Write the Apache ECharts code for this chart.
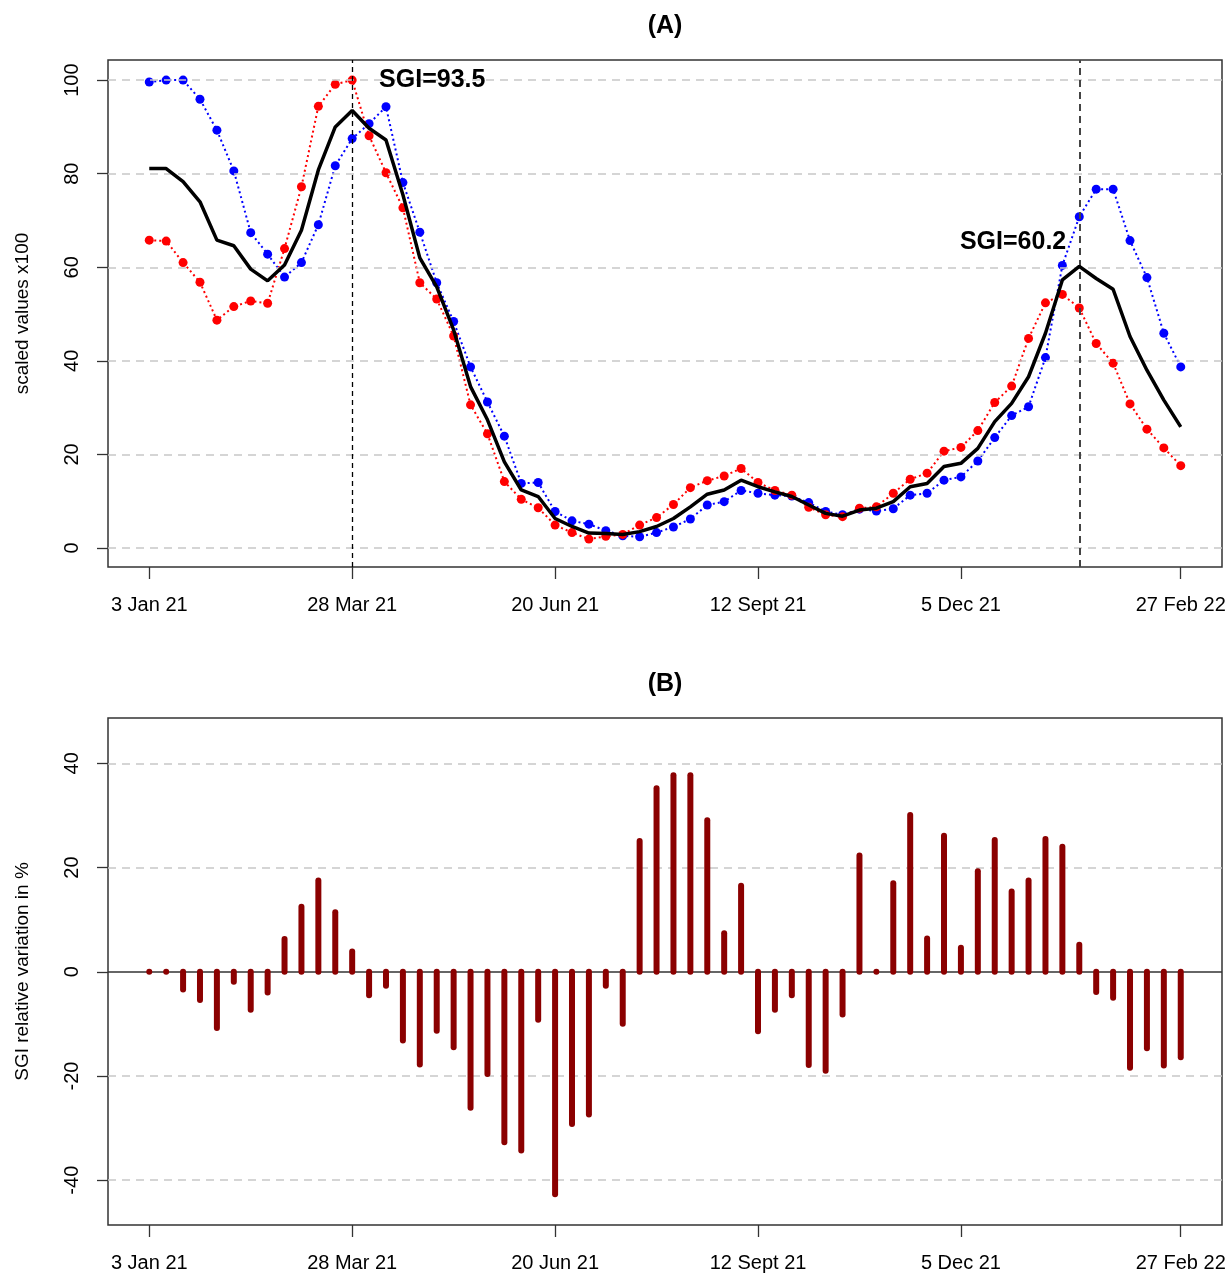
<!DOCTYPE html>
<html><head><meta charset="utf-8">
<script src="https://cdn.jsdelivr.net/npm/echarts@6/dist/echarts.min.js"></script>
<style>html,body{margin:0;padding:0;background:#fff}#c{width:1229px;height:1274px}</style>
</head><body><div id="c"></div>
<script>
// ---- data (weekly, index 0 = 3 Jan 21) ----
const weekIndex = Array.from({length: 62}, (_, i) => i);
const tickIdx = [0, 12, 24, 36, 48, 61];
const tickLabels = ['3 Jan 21', '28 Mar 21', '20 Jun 21', '12 Sept 21', '5 Dec 21', '27 Feb 22'];
const blueVals = [99.6,100,100,95.9,89.3,80.6,67.4,62.8,57.9,61.0,69.1,81.7,87.5,90.7,94.3,78.1,67.5,56.7,48.4,38.7,31.2,23.9,13.8,14.0,7.8,5.8,5.1,3.7,2.6,2.4,3.3,4.5,6.2,9.2,9.9,12.3,11.7,11.3,11.1,9.7,7.8,7.1,8.3,7.9,8.4,11.3,11.7,14.5,15.2,18.6,23.6,28.3,30.2,40.7,60.4,70.8,76.7,76.7,65.7,57.8,45.9,38.7];
const redVals = [65.8,65.6,61.0,56.8,48.7,51.6,52.8,52.3,64.0,77.2,94.4,99.1,100,88.1,80.2,72.7,56.7,53.2,45.3,30.6,24.4,14.2,10.4,8.6,4.9,3.3,1.9,2.5,2.9,4.9,6.5,9.3,12.9,14.4,15.4,17.0,14.0,12.3,11.3,8.7,7.1,6.7,8.5,8.8,11.7,14.7,16.0,20.7,21.5,25.1,31.1,34.6,44.8,52.4,54.2,51.3,43.7,39.5,30.8,25.4,21.4,17.6];
const sgiVals = [81.1,81.1,78.3,74.0,65.8,64.6,59.6,57.1,60.5,67.9,80.8,90.0,93.5,89.7,87.2,75.5,62.0,55.8,46.6,34.5,27.4,18.4,12.4,11.0,6.3,4.6,3.2,3.1,2.9,3.5,4.6,6.3,8.8,11.5,12.4,14.5,13.1,12.0,11.0,9.2,7.4,6.8,8.1,8.5,9.9,13.1,13.8,17.4,18.1,21.3,27.0,30.9,36.6,45.9,57.3,60.2,57.6,55.3,45.2,38.0,31.6,25.9];
const sgiVar = [0,0,-3.4,-5.4,-10.8,-1.9,-7.3,-4.0,6.3,12.5,17.5,11.4,3.9,-4.5,-2.7,-13.2,-17.8,-11.3,-14.5,-26.1,-19.6,-32.7,-34.3,-9.2,-42.7,-29.2,-27.4,-2.7,-10.0,25.1,35.2,37.7,37.7,29.1,7.4,16.5,-11.4,-7.3,-4.5,-17.9,-19.0,-8.2,22.3,0.1,17.0,30.1,6.4,26.1,4.6,19.3,25.3,15.4,17.5,25.5,24.0,5.2,-3.9,-5.0,-18.4,-14.7,-18.0,-16.4];
const peakIdx = [12, 55];
const peakLabels = ['SGI=93.5', 'SGI=60.2'];
const yTicksA = [0, 20, 40, 60, 80, 100];
const yTicksB = [-40, -20, 0, 20, 40];

const FONT = 'Liberation Sans, Arial, sans-serif';
const pair = arr => weekIndex.map((w, i) => [w, arr[i]]);

function xAxisCfg(gi) {
  return {
    type: 'value', gridIndex: gi, min: -2.44, max: 63.44, position: 'bottom',
    axisLine: {show: false, onZero: false}, splitLine: {show: false},
    axisTick: {show: true, customValues: tickIdx, length: 12, lineStyle: {color: '#333', width: 1.3}},
    axisLabel: {customValues: tickIdx, formatter: v => tickLabels[tickIdx.indexOf(Math.round(v))] || '',
      fontSize: 20, color: '#000', margin: 28, fontFamily: FONT}
  };
}
function yAxisCfg(gi, min, max, ticks, name) {
  return {
    type: 'value', gridIndex: gi, min: min, max: max, position: 'left',
    axisLine: {show: false, onZero: false}, splitLine: {show: false},
    axisTick: {show: true, customValues: ticks, length: 11, lineStyle: {color: '#333', width: 1.3}},
    axisLabel: {customValues: ticks, rotate: 90, fontSize: 20, color: '#000', margin: 26, fontFamily: FONT},
    name: name, nameLocation: 'middle', nameRotate: 90, nameGap: 76,
    nameTextStyle: {fontSize: 19, color: '#000', fontFamily: FONT}
  };
}
const gridLine = {type: [8, 6], color: '#c8c8c8', width: 1.5};

const option = {
  animation: false,
  backgroundColor: '#fff',
  textStyle: {fontFamily: FONT},
  grid: [
    {left: 108, width: 1114, top: 60, height: 507, show: true, borderColor: '#333', borderWidth: 1.5, backgroundColor: 'transparent'},
    {left: 108, width: 1114, top: 718, height: 507, show: true, borderColor: '#333', borderWidth: 1.5, backgroundColor: 'transparent'}
  ],
  xAxis: [xAxisCfg(0), xAxisCfg(1)],
  yAxis: [yAxisCfg(0, -4.06, 104.3, yTicksA, 'scaled values x100'),
          yAxisCfg(1, -48.6, 48.7, yTicksB, 'SGI relative variation in %')],
  graphic: [
    {type: 'text', x: 665, y: 26, style: {text: '(A)', font: 'bold 25px ' + FONT, fill: '#000', textAlign: 'center', textVerticalAlign: 'middle'}},
    {type: 'text', x: 665, y: 684, style: {text: '(B)', font: 'bold 25px ' + FONT, fill: '#000', textAlign: 'center', textVerticalAlign: 'middle'}}
  ],
  series: [
    { // grid lines A + vertical peak lines
      type: 'line', xAxisIndex: 0, yAxisIndex: 0, data: [], z: 1, silent: true,
      markLine: {
        silent: true, symbol: ['none', 'none'], label: {show: false}, animation: false,
        data: yTicksA.map(v => ({yAxis: v, lineStyle: gridLine})).concat([
          {xAxis: peakIdx[0], lineStyle: {type: [5, 4], color: '#000', width: 1.3}},
          {xAxis: peakIdx[1], lineStyle: {type: [7, 5], color: '#444', width: 2}}
        ])
      }
    },
    {
      name: 'blue', type: 'line', xAxisIndex: 0, yAxisIndex: 0, data: pair(blueVals), z: 3,
      symbol: 'circle', symbolSize: 9, itemStyle: {color: '#0000ff'},
      lineStyle: {color: '#0000ff', width: 2, type: [2, 3]}
    },
    {
      name: 'red', type: 'line', xAxisIndex: 0, yAxisIndex: 0, data: pair(redVals), z: 4,
      symbol: 'circle', symbolSize: 9, itemStyle: {color: '#ff0000'},
      lineStyle: {color: '#ff0000', width: 2, type: [2, 3]}
    },
    {
      name: 'SGI', type: 'line', xAxisIndex: 0, yAxisIndex: 0, data: pair(sgiVals), z: 5,
      showSymbol: false, lineStyle: {color: '#000', width: 3.5}, itemStyle: {color: '#000'},
      markPoint: {
        symbol: 'circle', symbolSize: 0.1, itemStyle: {color: 'rgba(0,0,0,0)'}, silent: true, animation: false,
        data: [
          {coord: [peakIdx[0], 100], value: peakLabels[0],
           label: {show: true, formatter: peakLabels[0], position: [27, 0], align: 'left', verticalAlign: 'middle', fontSize: 25, fontWeight: 'bold', color: '#000'}},
          {coord: [peakIdx[1], 65.4], value: peakLabels[1],
           label: {show: true, formatter: peakLabels[1], position: [-13, 0], align: 'right', verticalAlign: 'middle', fontSize: 25, fontWeight: 'bold', color: '#000'}}
        ]
      }
    },
    { // grid lines B
      type: 'line', xAxisIndex: 1, yAxisIndex: 1, data: [], z: 1, silent: true,
      markLine: {
        silent: true, symbol: ['none', 'none'], label: {show: false}, animation: false,
        data: yTicksB.filter(v => v !== 0).map(v => ({yAxis: v, lineStyle: gridLine}))
      }
    },
    {
      name: 'variation', type: 'custom', xAxisIndex: 1, yAxisIndex: 1, data: pair(sgiVar), z: 5,
      renderItem: function (params, api) {
        const x = api.value(0), v = api.value(1);
        const p0 = api.coord([x, 0]), p1 = api.coord([x, v]);
        if (Math.abs(p1[1] - p0[1]) < 1) {
          return {type: 'circle', shape: {cx: p0[0], cy: p0[1], r: 3}, style: {fill: '#8b0000'}};
        }
        return {type: 'line', shape: {x1: p0[0], y1: p0[1], x2: p1[0], y2: p1[1]},
                style: {stroke: '#8b0000', lineWidth: 6, lineCap: 'round'}};
      }
    },
    { // zero line B
      type: 'line', xAxisIndex: 1, yAxisIndex: 1, data: [], z: 8, silent: true,
      markLine: {
        silent: true, symbol: ['none', 'none'], label: {show: false}, animation: false,
        data: [{yAxis: 0, lineStyle: {type: 'solid', color: '#333', width: 1.5}}]
      }
    }
  ]
};
const chart = echarts.init(document.getElementById('c'), null, {renderer: 'canvas'});
chart.setOption(option);
</script>
</body></html>
